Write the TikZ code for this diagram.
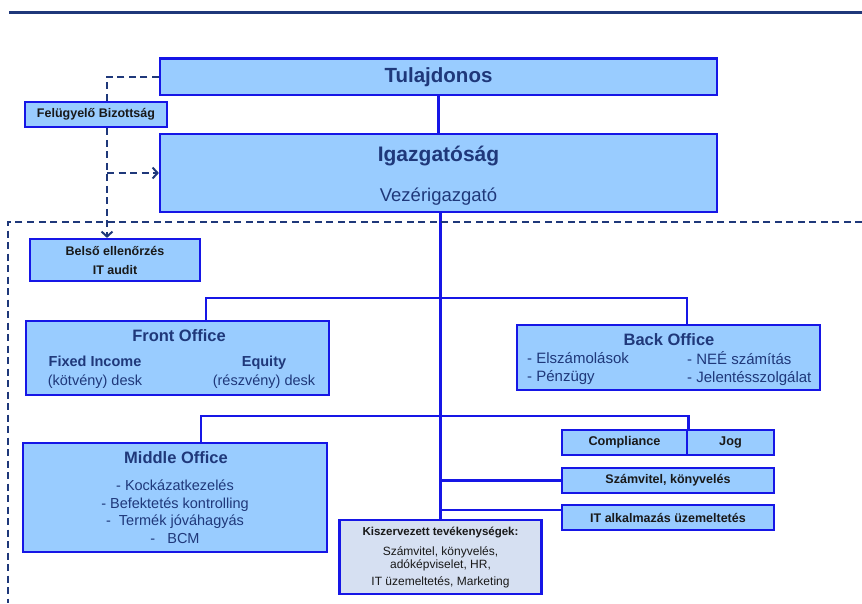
\documentclass[tikz,border=0pt]{standalone}
\usepackage{fontspec}
\setmainfont{Liberation Sans}
\usepackage{tikz}
\usetikzlibrary{arrows.meta,backgrounds}
\definecolor{boxblue}{RGB}{153,204,255}
\definecolor{lineblue}{RGB}{22,22,230}
\definecolor{navy}{RGB}{31,56,122}
\definecolor{paleblue}{RGB}{214,224,242}
\definecolor{txt}{RGB}{25,25,25}
\newcommand{\fsz}[2]{\fontsize{#1}{#2}\selectfont}

\begin{document}
\begin{tikzpicture}
[x=1pt,y=-1pt,every node/.style={inner sep=0pt,text=txt},
box/.style={rectangle,draw=lineblue,fill=boxblue,line width=2.2pt},
conn/.style={lineblue,line width=2.8pt},
dashline/.style={navy,line width=2pt,dash pattern=on 7pt off 4.5pt},
>={Straight Barb[length=5pt,width=11pt]}]
\useasboundingbox (0,0) rectangle (862,603);
\draw[navy,line width=3pt] (9,12)--(862,12);
% felso szint
\node[box,minimum width=557pt,minimum height=36.5pt,text=navy,font=\fsz{20.5}{20.5}\bfseries] (tul) at (438.5,76.8){Tulajdonos};
\node[box,minimum width=557pt,minimum height=78pt] (igaz) at (438.5,173){};
\node[text=navy,font=\fsz{21}{21}\bfseries] (igazt) at (438.5,156){Igazgatóság};
\node[text=navy,font=\fsz{18.5}{18.5}] (vezt) at (438.5,197){Vezérigazgató};
\node[box,minimum width=142pt,minimum height=25pt,font=\fsz{12.5}{12.5}\bfseries] (fb) at (96,114.5){Felügyelő Bizottság};
\node[box,minimum width=170pt,minimum height=42pt,align=center,font=\fsz{12.5}{19}\bfseries] (belso) at (115,260){Belső ellenőrzés\\IT audit};
% front es back office
\node[box,minimum width=303pt,minimum height=74pt] (front) at (177.5,358){};
\node[text=navy,font=\fsz{16.5}{16.5}\bfseries] (frontt) at (179,336){Front Office};
\node[text=navy,align=center,font=\fsz{14.5}{19}] (fixed) at (95,372.5){\textbf{Fixed Income}\\(kötvény) desk};
\node[text=navy,align=center,font=\fsz{14.5}{19}] (equity) at (264,372.5){\textbf{Equity}\\(részvény) desk};
\node[box,minimum width=303pt,minimum height=65pt] (back) at (668.5,357.5){};
\node[text=navy,font=\fsz{16.5}{16.5}\bfseries] (backt) at (669,340){Back Office};
\node[text=navy,align=left,anchor=west,font=\fsz{15}{18}] (backl) at (527,369){- Elszámolások\\- Pénzügy};
\node[text=navy,align=left,anchor=west,font=\fsz{15}{18}] (backr) at (687,369){- NEÉ számítás\\- Jelentésszolgálat};
% middle office es egyebek
\node[box,minimum width=304pt,minimum height=109pt] (middle) at (175,497.5){};
\node[text=navy,font=\fsz{16.5}{16.5}\bfseries] (middlet) at (176,458){Middle Office};
\node[text=navy,align=center,font=\fsz{14.5}{17.5}] (middlel) at (175,511.5){- Kockázatkezelés\\- Befektetés kontrolling\\-\ \ Termék jóváhagyás\\-\ \ \ BCM};
\node[box,minimum width=125pt,minimum height=25pt,font=\fsz{12.7}{12.7}\bfseries] (comp) at (624.5,442.5){Compliance};
\node[box,minimum width=87pt,minimum height=25pt,font=\fsz{12.7}{12.7}\bfseries] (jog) at (730.5,442.5){Jog};
\node[box,minimum width=212pt,minimum height=25pt,font=\fsz{12.5}{12.5}\bfseries] (szamv) at (668,480.5){Számvitel, könyvelés};
\node[box,minimum width=212pt,minimum height=25pt,font=\fsz{12.5}{12.5}\bfseries] (it) at (668,517.5){IT alkalmazás üzemeltetés};
\node[box,fill=paleblue,minimum width=202pt,minimum height=74pt] (kisz) at (440.5,557){};
\node[font=\fsz{11.5}{11.5}\bfseries] (kiszt) at (440.5,532){Kiszervezett tevékenységek:};
\node[align=center,font=\fsz{12}{13}] (kiszl) at (440.5,558.5){Számvitel, könyvelés,\\adóképviselet, HR,};
\node[font=\fsz{12}{12}] (kiszm) at (440.5,582){IT üzemeltetés, Marketing};
% vonalak
\coordinate (b1) at (440.5,298);
\coordinate (b2) at (440.5,416);
\coordinate (itc) at ([yshift=7.5pt]it.west);
\begin{scope}[on background layer]
\draw[conn] (tul.south)--(igaz.north);
\draw[conn] (kisz.north |- igaz.south)--(kisz.north);
\draw[conn] ([xshift=28.5pt]front.north) |- (b1) -| ([xshift=18.5pt]back.north);
\draw[conn] ([xshift=26pt]middle.north) |- (b2) -| (comp.north east);
\draw[conn] (szamv.west -| kisz.north)--(szamv.west);
\draw[conn] (itc -| kisz.north)--(itc);
\coordinate (dv) at ([xshift=-8pt]belso.north);
\draw[dashline,->] (tul.west) -| (dv);
\draw[dashline,->] (igaz.west -| dv)--(igaz.west);
\draw[dashline] (862,222) -| (8,603);
\end{scope}
\end{tikzpicture}
\end{document}
